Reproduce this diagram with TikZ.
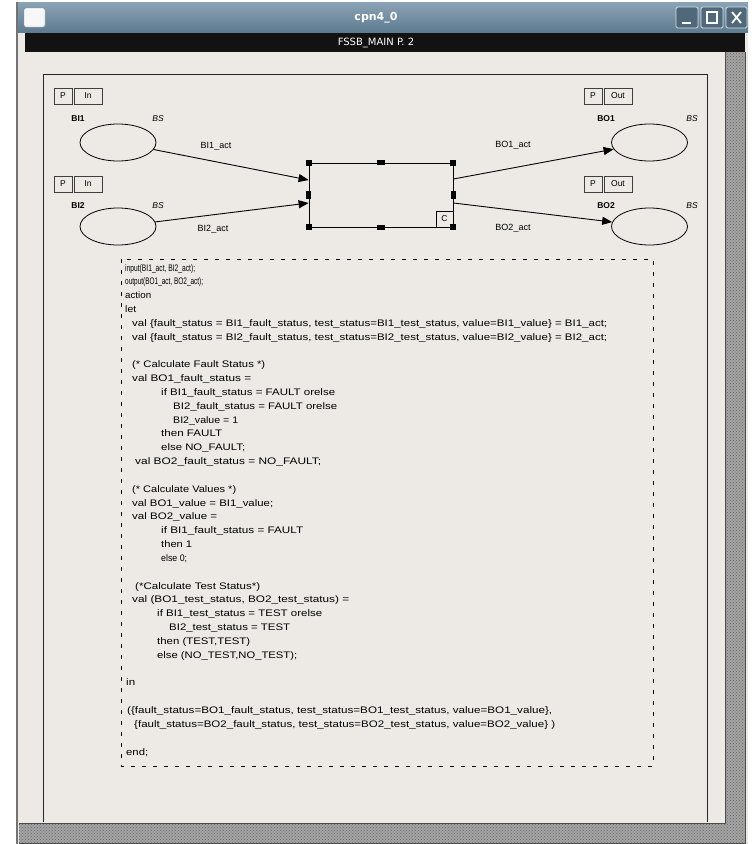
\documentclass[tikz,border=0pt]{standalone}
\usepackage{fontspec}
\setmainfont{Liberation Sans}
\newfontfamily\djv{DejaVu Sans}
\usepackage{graphicx}
\usetikzlibrary{arrows.meta,patterns,shapes.geometric}
\definecolor{winbg}{HTML}{EDEAE6}
\definecolor{titleA}{HTML}{8BA3B6}
\definecolor{titleB}{HTML}{5E7B90}
\definecolor{hatchc}{HTML}{A4A4A4}
\newsavebox\clbox
\newcommand\fitw[2]{\sbox\clbox{#2}\pgfmathsetmacro\clsx{#1/(\wd\clbox)}\scalebox{\clsx}[1]{\usebox\clbox}}
\newcommand\cl[4]{\node[code] (L#1) at (#2,{271+(#1-1)*13.83}) {\fitw{#3}{#4}};}
\begin{document}
\begin{tikzpicture}[x=1pt,y=-1pt,
  code/.style={anchor=base west,inner sep=0pt,font=\fontsize{9.5}{11}\selectfont},
  place/.style={ellipse,draw,line width=0.8pt,minimum width=76pt,minimum height=37pt,inner sep=0pt},
  trans/.style={rectangle,draw,line width=0.8pt,minimum width=144pt,minimum height=64pt,inner sep=0pt},
  arc/.style={line width=0.9pt,-{Triangle[length=10pt,width=8pt]}},
  portbox/.style={rectangle,draw=black!75,line width=0.8pt,minimum height=16pt,inner sep=0pt,font=\fontsize{8.5}{10}\selectfont},
  pname/.style={font=\bfseries\fontsize{8.5}{10}\selectfont,inner sep=0pt},
  ptype/.style={font=\itshape\fontsize{8.5}{10}\selectfont,inner sep=0pt},
  alabel/.style={font=\fontsize{9}{10}\selectfont,inner sep=0pt},
  handle/.style={rectangle,fill=black,minimum size=6pt,inner sep=0pt},
  hatchfill/.style={fill=hatchc,postaction={pattern=crosshatch dots,pattern color=black!60}},
  btn/.style={draw=white!75!titleB,fill=titleB!85!black,rounded corners=1.5pt,line width=0.8pt}]
\useasboundingbox (0,0) rectangle (752,844);
% window chrome
\fill[white] (0,0) rectangle (752,844);
\fill[winbg] (17,2) rectangle (748,844);
\shade[top color=titleA,bottom color=titleB] (17,2) rectangle (748,32);
\draw[black!55,line width=1.2pt] (17,2) -- (17,844);
\node[font=\djv\bfseries\fontsize{11}{13}\selectfont,text=white] (title) at (376,18) {cpn4\_0};
\draw[black!45,fill=white!94!gray,rounded corners=1.5pt] (24,8) rectangle (45,27);
\draw[btn] (676,7) rectangle (698,28);
\draw[btn] (701,7) rectangle (723,28);
\draw[btn] (726,7) rectangle (747,28);
\draw[white,line width=1.6pt] (682,23) -- (691,23);
\draw[white,line width=1.1pt] (707,12) rectangle (717,23);
\draw[white,line width=1.8pt] (732,12) -- (741,23) (741,12) -- (732,23);
\fill[black!93] (25,33) rectangle (745,52);
\node[font=\djv\fontsize{10}{12}\selectfont,text=white] (sheet) at (376,42.5) {FSSB\_MAIN P. 2};
\fill[hatchfill] (725,52) rectangle (745,843);
\fill[hatchfill] (19,823) rectangle (725,843);
\draw[black!70,line width=0.8pt] (19,823) -- (725,823) -- (725,52);
\draw[black!70,line width=0.8pt] (19,843) -- (745,843) -- (745,52);
% page frame
\draw[black!85,line width=0.8pt] (43,822) -- (43,74) -- (707,74) -- (707,822);
% places
\node[place] (BI1) at (118,142.5) {};
\node[place] (BI2) at (118,226.5) {};
\node[place] (BO1) at (649.5,142.5) {};
\node[place] (BO2) at (649.5,226.5) {};
\node[pname] (nBI1) at (78,119) {BI1};
\node[ptype] (tBI1) at (158,119) {BS};
\node[pname] (nBI2) at (78,206) {BI2};
\node[ptype] (tBI2) at (158,206) {BS};
\node[pname] (nBO1) at (606,119) {BO1};
\node[ptype] (tBO1) at (692,119) {BS};
\node[pname] (nBO2) at (606,206) {BO2};
\node[ptype] (tBO2) at (692,206) {BS};
% port tags
\node[portbox,minimum width=18pt] (pP1) at (63,96) {P};
\node[portbox,minimum width=28pt] (pI1) at (88,96) {In};
\node[portbox,minimum width=18pt] (pP2) at (63,184) {P};
\node[portbox,minimum width=28pt] (pI2) at (88,184) {In};
\node[portbox,minimum width=18pt] (pP3) at (593,96) {P};
\node[portbox,minimum width=28pt] (pO3) at (618,96) {Out};
\node[portbox,minimum width=18pt] (pP4) at (593,184) {P};
\node[portbox,minimum width=28pt] (pO4) at (618,184) {Out};
% transition
\node[trans] (T) at (381,195) {};
\node[draw,line width=0.8pt,minimum width=17pt,minimum height=16pt,inner sep=0pt,anchor=south east,font=\fontsize{8.5}{10}\selectfont] (Cbox) at (T.south east) {C};
\coordinate (i1) at ([yshift=15pt]T.west);
\coordinate (i2) at ([yshift=-8pt]T.west);
\coordinate (o1) at ([yshift=16pt]T.east);
\coordinate (o2) at ([yshift=-8pt]T.east);
\draw[arc] (BI1) -- (i1);
\draw[arc] (BI2) -- (i2);
\draw[arc] (o1) -- (BO1);
\draw[arc] (o2) -- (BO2);
\node[handle] (h1) at (T.north west) {};
\node[handle] (h2) at (T.north east) {};
\node[handle] (h3) at (T.south west) {};
\node[handle] (h4) at (T.south east) {};
\node[handle,minimum width=8pt,minimum height=5pt] (h5) at (T.north) {};
\node[handle,minimum width=8pt,minimum height=5pt] (h6) at (T.south) {};
\node[handle,minimum width=5pt,minimum height=8pt] (h7) at (T.west) {};
\node[handle,minimum width=5pt,minimum height=8pt] (h8) at (T.east) {};
% arc labels
\node[alabel] (aBI1) at (216,146) {BI1\_act};
\node[alabel] (aBI2) at (213,229) {BI2\_act};
\node[alabel] (aBO1) at (513,145) {BO1\_act};
\node[alabel] (aBO2) at (513,228) {BO2\_act};
% code segment
\draw[line width=0.9pt,dash pattern=on 4pt off 7pt] (121,259) rectangle (653,766);
\cl{1}{125}{70}{input(BI1\_act, BI2\_act);}
\cl{2}{125}{78}{output(BO1\_act, BO2\_act);}
\cl{3}{125}{26}{action}
\cl{4}{125}{11}{let}
\cl{5}{132}{475}{val \{fault\_status = BI1\_fault\_status, test\_status=BI1\_test\_status, value=BI1\_value\} = BI1\_act;}
\cl{6}{132}{475}{val \{fault\_status = BI2\_fault\_status, test\_status=BI2\_test\_status, value=BI2\_value\} = BI2\_act;}
\cl{8}{132}{133}{(* Calculate Fault Status *)}
\cl{9}{132}{119}{val BO1\_fault\_status =}
\cl{10}{161}{174}{if BI1\_fault\_status = FAULT orelse}
\cl{11}{173}{164}{BI2\_fault\_status = FAULT orelse}
\cl{12}{173}{65}{BI2\_value = 1}
\cl{13}{161}{61}{then FAULT}
\cl{14}{161}{84}{else NO\_FAULT;}
\cl{15}{135}{186}{val BO2\_fault\_status = NO\_FAULT;}
\cl{17}{132}{104}{(* Calculate Values *)}
\cl{18}{132}{141}{val BO1\_value = BI1\_value;}
\cl{19}{132}{85}{val BO2\_value =}
\cl{20}{161}{142}{if BI1\_fault\_status = FAULT}
\cl{21}{161}{31}{then 1}
\cl{22}{161}{26}{else 0;}
\cl{24}{135}{125}{(*Calculate Test Status*)}
\cl{25}{132}{217}{val (BO1\_test\_status, BO2\_test\_status) =}
\cl{26}{157}{165}{if BI1\_test\_status = TEST orelse}
\cl{27}{169}{121}{BI2\_test\_status = TEST}
\cl{28}{157}{93}{then (TEST,TEST)}
\cl{29}{157}{140}{else (NO\_TEST,NO\_TEST);}
\cl{31}{126}{9}{in}
\cl{33}{127}{425}{(\{fault\_status=BO1\_fault\_status, test\_status=BO1\_test\_status, value=BO1\_value\},}
\cl{34}{134}{421}{\{fault\_status=BO2\_fault\_status, test\_status=BO2\_test\_status, value=BO2\_value\} )}
\cl{36}{126}{22}{end;}
\end{tikzpicture}
\end{document}
